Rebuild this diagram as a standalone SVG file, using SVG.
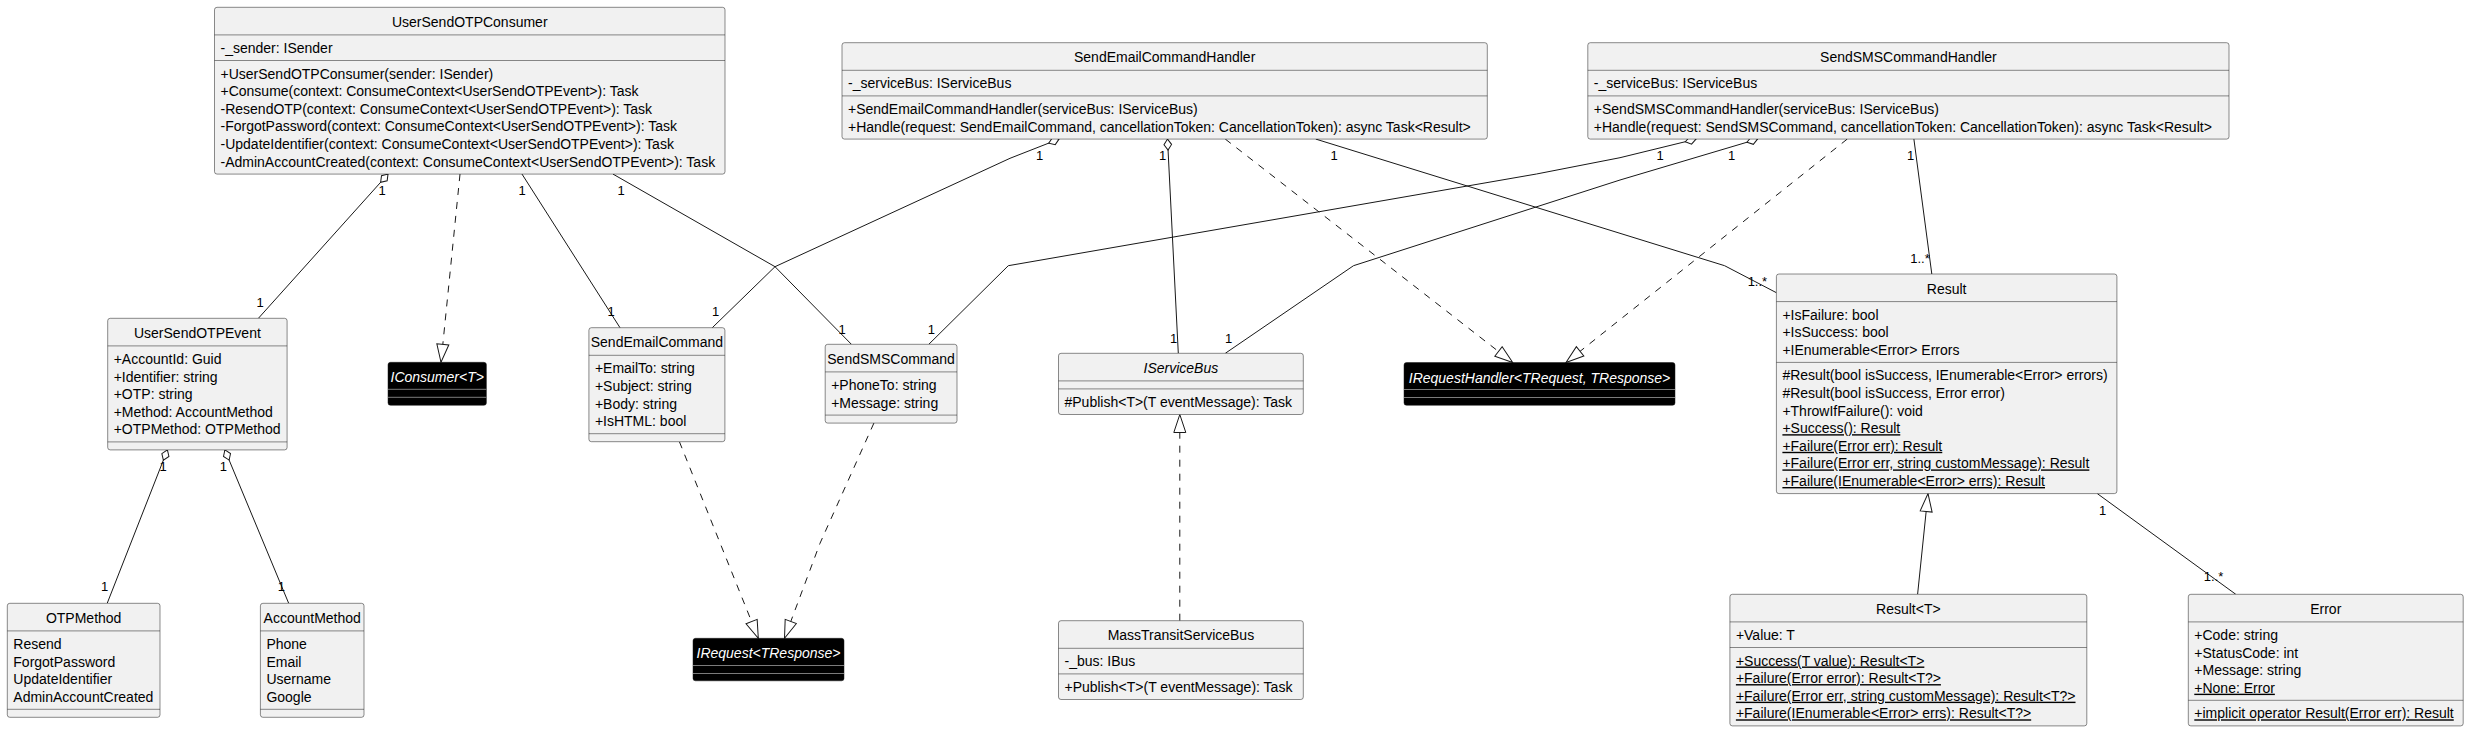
<svg xmlns="http://www.w3.org/2000/svg" width="2469" height="731" viewBox="0 0 2469 731">
<style>
.bx{fill:#F1F1F1;stroke:#181818;stroke-width:0.5}
.sp{stroke:#181818;stroke-width:0.5}
.bk{fill:#000000;stroke:#181818;stroke-width:0.5}
.wsp{stroke:#9A9A9A;stroke-width:0.8}
text{font-family:"Liberation Sans",Arial,sans-serif;font-size:14px;fill:#000000}
.c{text-anchor:middle}
.it{font-style:italic}
.wt{fill:#FFFFFF}
.u{text-decoration:underline}
.lb{font-size:13px;text-anchor:middle}
.ln{fill:none;stroke:#181818;stroke-width:1}
.da{stroke-dasharray:7,7}
</style>
<defs>
<marker id="tri" markerUnits="userSpaceOnUse" markerWidth="20" markerHeight="14" viewBox="0 0 20 14" refX="19" refY="7" orient="auto">
<path d="M1,1 L19,7 L1,13 Z" fill="#FFFFFF" stroke="#181818" stroke-width="1"/>
</marker>
<marker id="dia" markerUnits="userSpaceOnUse" markerWidth="13" markerHeight="10" viewBox="0 0 13 10" refX="1" refY="5" orient="auto">
<path d="M1,5 L6.5,1.2 L12,5 L6.5,8.8 Z" fill="#FFFFFF" stroke="#181818" stroke-width="1"/>
</marker>
</defs>
<rect width="2469" height="731" fill="#FFFFFF"/>

<g id="connectors">
<path class="ln" marker-start="url(#dia)" d="M388,174.1 L258.4,318.3"/>
<path class="ln da" marker-end="url(#tri)" d="M460,174.1 L441,362.3"/>
<path class="ln" d="M522,174.1 L620,327.7"/>
<path class="ln" d="M613,174.1 L775,266.7 L851.4,344.3"/>
<path class="ln" marker-start="url(#dia)" d="M1059,139.1 L1010,158.3 L775,266.7 L712.3,327.7"/>
<path class="ln" marker-start="url(#dia)" d="M1167.5,139.1 L1178.3,353.3"/>
<path class="ln da" marker-end="url(#tri)" d="M1225.3,139.1 L1512.7,362.5"/>
<path class="ln" d="M1315.8,139.1 L1724.6,265.7 L1776.4,292.7"/>
<path class="ln" marker-start="url(#dia)" d="M1696,139.1 L1620,157.7 L1536.5,174 L1008.3,265.7 L928.8,344.3"/>
<path class="ln" marker-start="url(#dia)" d="M1757.5,139.1 L1620,180 L1353.5,265.7 L1225.3,353.3"/>
<path class="ln da" marker-end="url(#tri)" d="M1847.2,139.1 L1566,362.5"/>
<path class="ln" d="M1913.9,139.1 L1931.8,274"/>
<path class="ln da" marker-end="url(#tri)" d="M679.4,441.7 L758.3,638.3"/>
<path class="ln da" marker-end="url(#tri)" d="M873.9,423.1 L820,543.3 L784.5,638.3"/>
<path class="ln da" marker-end="url(#tri)" d="M1179.8,620.7 L1179.8,414.5"/>
<path class="ln" marker-end="url(#tri)" d="M1917.6,594.3 L1928,493.6"/>
<path class="ln" d="M2097.3,493.6 L2235.8,594.3"/>
<path class="ln" marker-start="url(#dia)" d="M167.4,449.9 L107.2,603.3"/>
<path class="ln" marker-start="url(#dia)" d="M224.9,449.9 L288.7,603.3"/>
<text class="lb" x="382" y="195.2">1</text>
<text class="lb" x="260" y="307.2">1</text>
<text class="lb" x="522" y="195.2">1</text>
<text class="lb" x="611" y="316.2">1</text>
<text class="lb" x="621" y="195.2">1</text>
<text class="lb" x="842" y="333.8">1</text>
<text class="lb" x="1039.7" y="159.5">1</text>
<text class="lb" x="715.5" y="316.2">1</text>
<text class="lb" x="1162.6" y="159.5">1</text>
<text class="lb" x="1173.5" y="342.8">1</text>
<text class="lb" x="1334" y="159.5">1</text>
<text class="lb" x="1757.4" y="286.2">1..*</text>
<text class="lb" x="1660" y="160">1</text>
<text class="lb" x="931.4" y="333.8">1</text>
<text class="lb" x="1731.5" y="160">1</text>
<text class="lb" x="1228.5" y="342.8">1</text>
<text class="lb" x="1910.7" y="159.5">1</text>
<text class="lb" x="1920" y="262.8">1..*</text>
<text class="lb" x="2102.6" y="514.5">1</text>
<text class="lb" x="2213.6" y="581.2">1..*</text>
<text class="lb" x="163.2" y="471.2">1</text>
<text class="lb" x="104.6" y="591.2">1</text>
<text class="lb" x="223.3" y="471.2">1</text>
<text class="lb" x="281.4" y="591.2">1</text>
</g>

<g id="UserSendOTPConsumer">
<rect class="bx" x="214.5" y="7.3" width="510.5" height="166.8" rx="2.5"/>
<line class="sp" x1="214.5" y1="34.9" x2="725" y2="34.9"/>
<line class="sp" x1="214.5" y1="60.5" x2="725" y2="60.5"/>
<text class="c" x="469.75" y="27">UserSendOTPConsumer</text>
<text x="220.5" y="52.9">-_sender: ISender</text>
<text x="220.5" y="78.5">+UserSendOTPConsumer(sender: ISender)</text>
<text x="220.5" y="96.1">+Consume(context: ConsumeContext&lt;UserSendOTPEvent&gt;): Task</text>
<text x="220.5" y="113.7">-ResendOTP(context: ConsumeContext&lt;UserSendOTPEvent&gt;): Task</text>
<text x="220.5" y="131.3">-ForgotPassword(context: ConsumeContext&lt;UserSendOTPEvent&gt;): Task</text>
<text x="220.5" y="148.9">-UpdateIdentifier(context: ConsumeContext&lt;UserSendOTPEvent&gt;): Task</text>
<text x="220.5" y="166.5">-AdminAccountCreated(context: ConsumeContext&lt;UserSendOTPEvent&gt;): Task</text>
</g>

<g id="SendEmailCommandHandler">
<rect class="bx" x="842" y="42.7" width="645.3" height="96.4" rx="2.5"/>
<line class="sp" x1="842" y1="70.3" x2="1487.3" y2="70.3"/>
<line class="sp" x1="842" y1="95.9" x2="1487.3" y2="95.9"/>
<text class="c" x="1164.65" y="62.2">SendEmailCommandHandler</text>
<text x="848" y="88.3">-_serviceBus: IServiceBus</text>
<text x="848" y="113.9">+SendEmailCommandHandler(serviceBus: IServiceBus)</text>
<text x="848" y="131.5">+Handle(request: SendEmailCommand, cancellationToken: CancellationToken): async Task&lt;Result&gt;</text>
</g>

<g id="SendSMSCommandHandler">
<rect class="bx" x="1587.8" y="42.7" width="641.2" height="96.4" rx="2.5"/>
<line class="sp" x1="1587.8" y1="70.3" x2="2229" y2="70.3"/>
<line class="sp" x1="1587.8" y1="95.9" x2="2229" y2="95.9"/>
<text class="c" x="1908.4" y="62.2">SendSMSCommandHandler</text>
<text x="1593.8" y="88.3">-_serviceBus: IServiceBus</text>
<text x="1593.8" y="113.9">+SendSMSCommandHandler(serviceBus: IServiceBus)</text>
<text x="1593.8" y="131.5">+Handle(request: SendSMSCommand, cancellationToken: CancellationToken): async Task&lt;Result&gt;</text>
</g>

<g id="UserSendOTPEvent">
<rect class="bx" x="107.7" y="318.3" width="179.4" height="131.6" rx="2.5"/>
<line class="sp" x1="107.7" y1="345.9" x2="287.1" y2="345.9"/>
<line class="sp" x1="107.7" y1="441.9" x2="287.1" y2="441.9"/>
<text class="c" x="197.4" y="337.8">UserSendOTPEvent</text>
<text x="113.7" y="363.9">+AccountId: Guid</text>
<text x="113.7" y="381.5">+Identifier: string</text>
<text x="113.7" y="399.1">+OTP: string</text>
<text x="113.7" y="416.7">+Method: AccountMethod</text>
<text x="113.7" y="434.3">+OTPMethod: OTPMethod</text>
</g>

<g id="IConsumer">
<rect class="bk" x="388" y="362.3" width="98.4" height="43" rx="2.5"/>
<line class="wsp" x1="388" y1="389.3" x2="486.4" y2="389.3"/>
<line class="wsp" x1="388" y1="397.3" x2="486.4" y2="397.3"/>
<text class="c it wt" x="437.2" y="382.3">IConsumer&lt;T&gt;</text>
</g>

<g id="SendEmailCommand">
<rect class="bx" x="588.9" y="327.7" width="136" height="114" rx="2.5"/>
<line class="sp" x1="588.9" y1="355.3" x2="724.9" y2="355.3"/>
<line class="sp" x1="588.9" y1="433.7" x2="724.9" y2="433.7"/>
<text class="c" x="656.9" y="347.2">SendEmailCommand</text>
<text x="594.9" y="373.3">+EmailTo: string</text>
<text x="594.9" y="390.9">+Subject: string</text>
<text x="594.9" y="408.5">+Body: string</text>
<text x="594.9" y="426.1">+IsHTML: bool</text>
</g>

<g id="SendSMSCommand">
<rect class="bx" x="825.2" y="344.3" width="131.8" height="78.8" rx="2.5"/>
<line class="sp" x1="825.2" y1="371.9" x2="957" y2="371.9"/>
<line class="sp" x1="825.2" y1="415.1" x2="957" y2="415.1"/>
<text class="c" x="891.1" y="363.8">SendSMSCommand</text>
<text x="831.2" y="389.9">+PhoneTo: string</text>
<text x="831.2" y="407.5">+Message: string</text>
</g>

<g id="IServiceBus">
<rect class="bx" x="1058.5" y="353.3" width="244.8" height="61.2" rx="2.5"/>
<line class="sp" x1="1058.5" y1="380.9" x2="1303.3" y2="380.9"/>
<line class="sp" x1="1058.5" y1="388.9" x2="1303.3" y2="388.9"/>
<text class="c it" x="1180.9" y="372.8">IServiceBus</text>
<text x="1064.5" y="406.9">#Publish&lt;T&gt;(T eventMessage): Task</text>
</g>

<g id="IRequestHandler">
<rect class="bk" x="1404" y="362.5" width="271" height="42.8" rx="2.5"/>
<line class="wsp" x1="1404" y1="389.5" x2="1675" y2="389.5"/>
<line class="wsp" x1="1404" y1="397.5" x2="1675" y2="397.5"/>
<text class="c it wt" x="1539.5" y="382.5">IRequestHandler&lt;TRequest, TResponse&gt;</text>
</g>

<g id="Result">
<rect class="bx" x="1776.4" y="274" width="340.5" height="219.6" rx="2.5"/>
<line class="sp" x1="1776.4" y1="301.6" x2="2116.9" y2="301.6"/>
<line class="sp" x1="1776.4" y1="362.4" x2="2116.9" y2="362.4"/>
<text class="c" x="1946.65" y="293.5">Result</text>
<text x="1782.4" y="319.6">+IsFailure: bool</text>
<text x="1782.4" y="337.2">+IsSuccess: bool</text>
<text x="1782.4" y="354.8">+IEnumerable&lt;Error&gt; Errors</text>
<text x="1782.4" y="380.4">#Result(bool isSuccess, IEnumerable&lt;Error&gt; errors)</text>
<text x="1782.4" y="398">#Result(bool isSuccess, Error error)</text>
<text x="1782.4" y="415.6">+ThrowIfFailure(): void</text>
<text class="u" x="1782.4" y="433.2">+Success(): Result</text>
<text class="u" x="1782.4" y="450.8">+Failure(Error err): Result</text>
<text class="u" x="1782.4" y="468.4">+Failure(Error err, string customMessage): Result</text>
<text class="u" x="1782.4" y="486">+Failure(IEnumerable&lt;Error&gt; errs): Result</text>
</g>

<g id="IRequest">
<rect class="bk" x="693" y="638.3" width="151" height="42.5" rx="2.5"/>
<line class="wsp" x1="693" y1="665.5" x2="844" y2="665.5"/>
<line class="wsp" x1="693" y1="673.5" x2="844" y2="673.5"/>
<text class="c it wt" x="768.5" y="658.3">IRequest&lt;TResponse&gt;</text>
</g>

<g id="MassTransitServiceBus">
<rect class="bx" x="1058.5" y="620.7" width="244.8" height="78.8" rx="2.5"/>
<line class="sp" x1="1058.5" y1="648.3" x2="1303.3" y2="648.3"/>
<line class="sp" x1="1058.5" y1="673.9" x2="1303.3" y2="673.9"/>
<text class="c" x="1180.9" y="640.2">MassTransitServiceBus</text>
<text x="1064.5" y="666.3">-_bus: IBus</text>
<text x="1064.5" y="691.9">+Publish&lt;T&gt;(T eventMessage): Task</text>
</g>

<g id="ResultT">
<rect class="bx" x="1729.9" y="594.3" width="356.9" height="131.6" rx="2.5"/>
<line class="sp" x1="1729.9" y1="621.9" x2="2086.8" y2="621.9"/>
<line class="sp" x1="1729.9" y1="647.5" x2="2086.8" y2="647.5"/>
<text class="c" x="1908.35" y="613.8">Result&lt;T&gt;</text>
<text x="1735.9" y="639.9">+Value: T</text>
<text class="u" x="1735.9" y="665.5">+Success(T value): Result&lt;T&gt;</text>
<text class="u" x="1735.9" y="683.1">+Failure(Error error): Result&lt;T?&gt;</text>
<text class="u" x="1735.9" y="700.7">+Failure(Error err, string customMessage): Result&lt;T?&gt;</text>
<text class="u" x="1735.9" y="718.3">+Failure(IEnumerable&lt;Error&gt; errs): Result&lt;T?&gt;</text>
</g>

<g id="Error">
<rect class="bx" x="2188.3" y="594.3" width="274.9" height="131.6" rx="2.5"/>
<line class="sp" x1="2188.3" y1="621.9" x2="2463.2" y2="621.9"/>
<line class="sp" x1="2188.3" y1="700.3" x2="2463.2" y2="700.3"/>
<text class="c" x="2325.75" y="613.8">Error</text>
<text x="2194.3" y="639.9">+Code: string</text>
<text x="2194.3" y="657.5">+StatusCode: int</text>
<text x="2194.3" y="675.1">+Message: string</text>
<text class="u" x="2194.3" y="692.7">+None: Error</text>
<text class="u" x="2194.3" y="718.3">+implicit operator Result(Error err): Result</text>
</g>

<g id="OTPMethod">
<rect class="bx" x="7.3" y="603.3" width="152.7" height="114" rx="2.5"/>
<line class="sp" x1="7.3" y1="630.9" x2="160" y2="630.9"/>
<line class="sp" x1="7.3" y1="709.3" x2="160" y2="709.3"/>
<text class="c" x="83.65" y="622.8">OTPMethod</text>
<text x="13.3" y="648.9">Resend</text>
<text x="13.3" y="666.5">ForgotPassword</text>
<text x="13.3" y="684.1">UpdateIdentifier</text>
<text x="13.3" y="701.7">AdminAccountCreated</text>
</g>

<g id="AccountMethod">
<rect class="bx" x="260.4" y="603.3" width="103.6" height="114" rx="2.5"/>
<line class="sp" x1="260.4" y1="630.9" x2="364" y2="630.9"/>
<line class="sp" x1="260.4" y1="709.3" x2="364" y2="709.3"/>
<text class="c" x="312.2" y="622.8">AccountMethod</text>
<text x="266.4" y="648.9">Phone</text>
<text x="266.4" y="666.5">Email</text>
<text x="266.4" y="684.1">Username</text>
<text x="266.4" y="701.7">Google</text>
</g>
</svg>
